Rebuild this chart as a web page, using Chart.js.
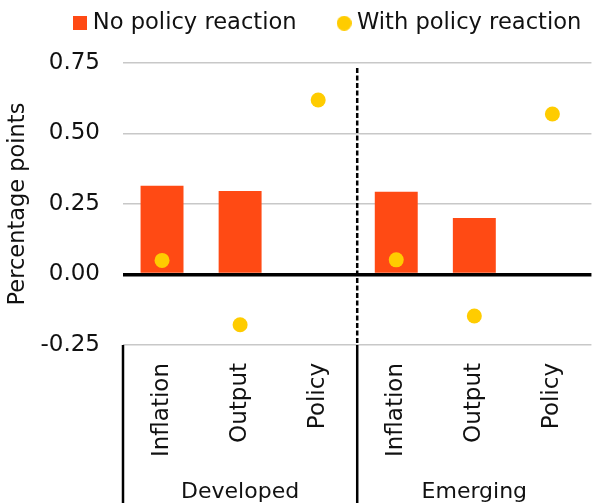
<!DOCTYPE html>
<html lang="en">
<head>
    <meta charset="UTF-8">
    <title>Policy reaction</title>
    <script src="https://cdn.jsdelivr.net/npm/chart.js"></script>
    <style>
        html, body { margin: 0; padding: 0; background: #fff; overflow: hidden; }
        #wrap { width: 598px; height: 503px; position: relative; }
    </style>
</head>
<body>
    <div id="wrap"><canvas id="myChart"></canvas></div>

    <script>
        // chart values
        const categories = ['Inflation', 'Output', 'Policy', 'Inflation', 'Output', 'Policy'];
        const groups = ['Developed', 'Emerging'];
        const noPolicy = [0.315, 0.296, null, 0.293, 0.200, null];
        const withPolicy = [0.050, -0.178, 0.619, 0.052, -0.147, 0.569];
        const yTicks = [-0.25, 0, 0.25, 0.5, 0.75];

        const FONT = 'DejaVu Sans';
        const ORANGE = '#FF4A14';
        const YELLOW = '#FFCC00';

        // let the dots sit at the plot edge without reserving extra room on the right
        Chart.LineController.prototype.getMaxOverflow = function() { return 0; };

        // small legend markers (square and dot)
        function marker(size, color, round) {
            const c = document.createElement('canvas');
            c.width = size; c.height = size;
            const g = c.getContext('2d');
            g.fillStyle = color;
            if (round) {
                g.beginPath();
                g.arc(size / 2, size / 2, size / 2, 0, Math.PI * 2);
                g.fill();
            } else {
                g.fillRect(0, 0, size, size);
            }
            return c;
        }
        const legendMarkers = [marker(14, ORANGE, false), marker(15, YELLOW, true)];

        // legend placement tweaks
        const legendPlace = {
            id: 'legendPlace',
            beforeInit(chart) {
                const fit = chart.legend.fit;
                chart.legend.fit = function() {
                    fit.bind(chart.legend)();
                    this.height = 63;
                };
            },
            beforeDraw(chart) {
                const lg = chart.legend;
                const pad = lg.options.labels.padding;
                lg.left = 78.5 - pad;
                lg.right = chart.width + 200;
                lg.top = 12 - pad;
            }
        };

        // separators: solid below the plot, dashed between the groups inside it
        const separators = {
            id: 'separators',
            afterDraw(chart) {
                const ctx = chart.ctx;
                const area = chart.chartArea;
                const x = chart.scales.x;
                const mid = (x.getPixelForValue(2) + x.getPixelForValue(3)) / 2;
                ctx.save();
                ctx.strokeStyle = '#000';
                ctx.lineWidth = 2.5;
                [area.left, mid].forEach(function(px) {
                    ctx.beginPath();
                    ctx.moveTo(px, area.bottom);
                    ctx.lineTo(px, chart.height);
                    ctx.stroke();
                });
                ctx.setLineDash([5, 2.5]);
                ctx.beginPath();
                ctx.moveTo(mid, area.top + 5);
                ctx.lineTo(mid, area.bottom);
                ctx.stroke();
                ctx.restore();
            }
        };

        const data = {
            labels: categories,
            datasets: [{
                type: 'bar',
                label: 'No policy reaction',
                data: noPolicy,
                backgroundColor: ORANGE,
                categoryPercentage: 0.55,
                barPercentage: 1,
                order: 2
            }, {
                type: 'line',
                label: 'With policy reaction',
                data: withPolicy,
                showLine: false,
                pointRadius: 7.5,
                pointHoverRadius: 7.5,
                backgroundColor: YELLOW,
                borderColor: YELLOW,
                pointBorderWidth: 0,
                pointStyle: 'circle',
                clip: false,
                order: 1
            }]
        };

        const config = {
            data: data,
            options: {
                responsive: true,
                maintainAspectRatio: false,
                animation: false,
                layout: { padding: 0, autoPadding: false },
                plugins: {
                    legend: {
                        position: 'top',
                        align: 'start',
                        labels: {
                            usePointStyle: true,
                            boxWidth: 3,
                            boxHeight: 3,
                            padding: 46,
                            color: '#111',
                            font: { family: FONT, size: 22.6 },
                            sort: function(a, b) { return a.datasetIndex - b.datasetIndex; },
                            generateLabels: function(chart) {
                                const items = Chart.defaults.plugins.legend.labels.generateLabels(chart);
                                items.forEach(function(it) { it.pointStyle = legendMarkers[it.datasetIndex]; });
                                return items;
                            }
                        }
                    },
                    tooltip: { enabled: false }
                },
                scales: {
                    x: {
                        type: 'category',
                        position: 'bottom',
                        offset: true,
                        grid: { display: false, drawTicks: false },
                        border: { display: false },
                        afterFit: function(scale) { scale.height = 113; },
                        ticks: {
                            minRotation: 90,
                            maxRotation: 90,
                            padding: 18,
                            color: '#111',
                            font: { family: FONT, size: 23 }
                        }
                    },
                    x2: {
                        type: 'category',
                        position: 'bottom',
                        labels: groups,
                        offset: true,
                        grid: { display: false, drawTicks: false },
                        border: { display: false },
                        afterFit: function(scale) { scale.height = 45; },
                        ticks: {
                            maxRotation: 0,
                            padding: 21,
                            color: '#111',
                            font: { family: FONT, size: 22 }
                        }
                    },
                    y: {
                        min: -0.25,
                        max: 0.75,
                        afterBuildTicks: function(axis) {
                            axis.ticks = yTicks.map(function(v) { return { value: v }; });
                        },
                        afterFit: function(scale) { scale.width = 123; },
                        border: { display: false },
                        grid: {
                            drawTicks: false,
                            color: function(c) { return c.tick && c.tick.value === 0 ? '#000' : '#c8c8c8'; },
                            lineWidth: function(c) { return c.tick && c.tick.value === 0 ? 3.5 : 1.5; }
                        },
                        ticks: {
                            padding: 23,
                            color: '#111',
                            font: { family: FONT, size: 23 },
                            callback: function(v) { return Number(v).toFixed(2); }
                        },
                        title: {
                            display: true,
                            text: 'Percentage points',
                            color: '#111',
                            padding: { top: 5, bottom: 0 },
                            font: { family: FONT, size: 22.5 }
                        }
                    }
                }
            },
            plugins: [legendPlace, separators]
        };

        const myChart = new Chart(document.getElementById('myChart'), config);
    </script>
</body>
</html>
